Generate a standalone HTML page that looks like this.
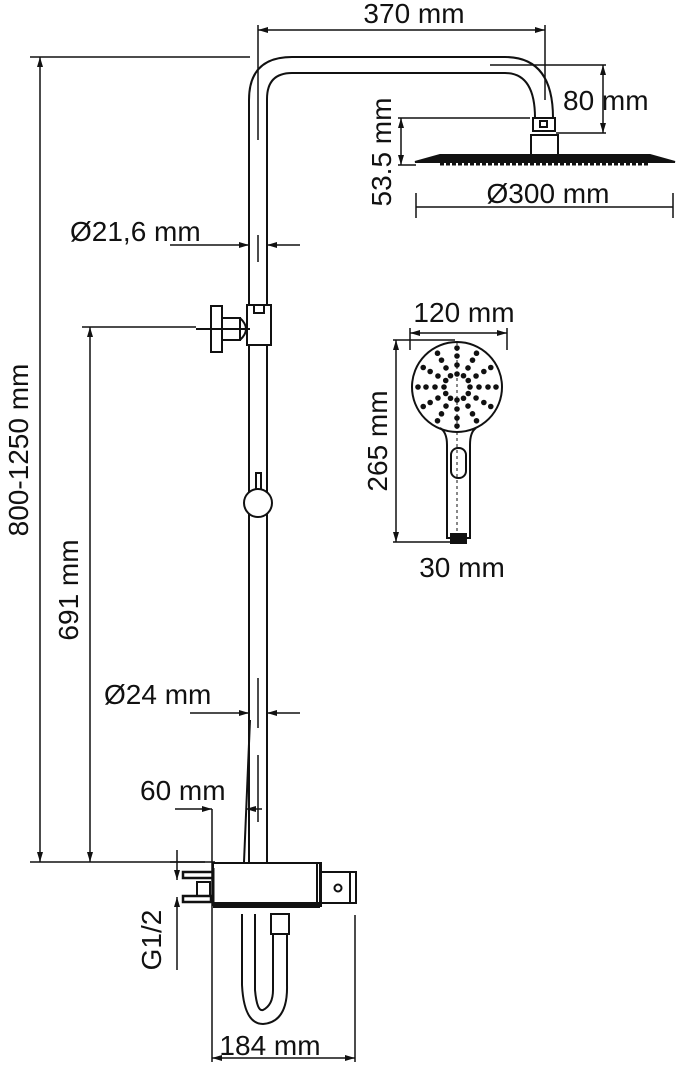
<!DOCTYPE html>
<html><head><meta charset="utf-8"><style>
html,body{margin:0;padding:0;background:#fff;}
svg{display:block;}
text{font-family:"Liberation Sans",sans-serif;font-size:28px;fill:#111;}
</style></head><body>
<svg id="s" width="679" height="1068" viewBox="0 0 679 1068" xmlns="http://www.w3.org/2000/svg">
<defs>
<marker id="a" viewBox="0 0 10 6" refX="10" refY="3" markerWidth="10" markerHeight="6" orient="auto-start-reverse" markerUnits="userSpaceOnUse"><path d="M0,0L10,3L0,6z" fill="#111"/></marker>
</defs>
<g fill="none" stroke="#111" stroke-width="2">
<path d="M249,862 V100 Q249,57 292,57 H505 Q553,57 553,118"/>
<path d="M267,862 V99 Q267,73 292,73 H505 Q535,73 535,118"/>
<rect x="533" y="118" width="22" height="13"/>
<rect x="540" y="121" width="7" height="6"/>
<rect x="531" y="135" width="27" height="20"/>
<path d="M415,162 L440,155 H650 L675,162 Z" fill="#111"/>
<line x1="440" y1="164" x2="650" y2="164" stroke-width="3" stroke-dasharray="4 2"/>
<rect x="247" y="305" width="24" height="40" fill="#fff"/>
<rect x="254" y="305" width="10" height="8"/>
<rect x="211" y="306" width="11" height="46"/>
<rect x="222" y="318" width="18" height="22"/>
<path d="M240,318 Q252,329 240,340"/>
<line x1="196" y1="329" x2="250" y2="329"/>
<rect x="256" y="473" width="5" height="17"/>
<circle cx="258" cy="503" r="14" fill="#fff"/>
<line x1="250" y1="720" x2="244" y2="862"/>
<rect x="213" y="863" width="107" height="40"/>
<line x1="213" y1="906" x2="320" y2="906" stroke-width="4"/>
<line x1="213" y1="868" x2="213" y2="906" stroke-width="3"/>
<rect x="317" y="863" width="4" height="43"/>
<rect x="320" y="872" width="36" height="31"/>
<line x1="350" y1="872" x2="350" y2="903"/>
<circle cx="338" cy="888" r="3.5"/>
<rect x="183" y="872" width="30" height="6" stroke-width="2.5"/>
<rect x="197" y="882" width="13" height="14"/>
<rect x="183" y="896" width="28" height="6" stroke-width="2.5"/>
<rect x="271" y="914" width="18" height="20"/>
<path d="M242,914 V985 Q244,1024 263,1024 Q288,1022 287,985 V934"/>
<path d="M255,914 V990 Q257,1012 263,1010 Q273,1005 273,990 V934"/>
<circle cx="457" cy="387" r="45"/>
<path d="M440,428 Q447,432 447,445 V538 H470 V445 Q470,432 476,428"/>
<rect x="451" y="448" width="15" height="30" rx="7"/>
<rect x="451" y="534" width="15" height="9" fill="#111"/>
<line x1="457" y1="342" x2="457" y2="538" stroke-width="1" stroke-dasharray="3 3"/>
</g>
<g id="dots" fill="#111"></g>
<g fill="none" stroke="#111" stroke-width="1.5">
<line x1="258" y1="25" x2="258" y2="140"/>
<line x1="545" y1="25" x2="545" y2="100"/>
<line x1="258" y1="30" x2="545" y2="30" marker-start="url(#a)" marker-end="url(#a)"/>
<line x1="490" y1="65" x2="606" y2="65"/>
<line x1="556" y1="133" x2="606" y2="133"/>
<line x1="603" y1="65" x2="603" y2="133" marker-start="url(#a)" marker-end="url(#a)"/>
<line x1="398" y1="118" x2="530" y2="118"/>
<line x1="398" y1="165" x2="416" y2="165"/>
<line x1="401" y1="118" x2="401" y2="165" marker-start="url(#a)" marker-end="url(#a)"/>
<line x1="416" y1="207" x2="673" y2="207"/>
<line x1="416" y1="193" x2="416" y2="218"/>
<line x1="673" y1="193" x2="673" y2="218"/>
<line x1="30" y1="57" x2="250" y2="57"/>
<line x1="30" y1="862" x2="215" y2="862"/>
<line x1="40" y1="57" x2="40" y2="862" marker-start="url(#a)" marker-end="url(#a)"/>
<line x1="82" y1="327" x2="196" y2="327"/>
<line x1="90" y1="327" x2="90" y2="862" marker-start="url(#a)" marker-end="url(#a)"/>
<line x1="258" y1="235" x2="258" y2="262"/>
<line x1="170" y1="245" x2="249" y2="245" marker-end="url(#a)"/>
<line x1="300" y1="245" x2="267" y2="245" marker-end="url(#a)"/>
<line x1="258" y1="678" x2="258" y2="728"/>
<line x1="190" y1="713" x2="249" y2="713" marker-end="url(#a)"/>
<line x1="300" y1="713" x2="267" y2="713" marker-end="url(#a)"/>
<line x1="258" y1="755" x2="258" y2="822"/>
<line x1="175" y1="809" x2="212" y2="809" marker-end="url(#a)"/>
<line x1="262" y1="809" x2="246" y2="809" marker-end="url(#a)"/>
<line x1="212" y1="809" x2="212" y2="1062"/>
<line x1="355" y1="915" x2="355" y2="1062"/>
<line x1="212" y1="1058" x2="355" y2="1058" marker-start="url(#a)" marker-end="url(#a)"/>
<line x1="170" y1="862" x2="205" y2="862"/>
<line x1="177" y1="850" x2="177" y2="880" marker-end="url(#a)"/>
<line x1="177" y1="970" x2="177" y2="897" marker-end="url(#a)"/>
<line x1="410" y1="333" x2="507" y2="333" marker-start="url(#a)" marker-end="url(#a)"/>
<line x1="410" y1="328" x2="410" y2="350"/>
<line x1="507" y1="328" x2="507" y2="350"/>
<line x1="393" y1="340" x2="455" y2="340"/>
<line x1="393" y1="542" x2="450" y2="542"/>
<line x1="396" y1="340" x2="396" y2="542" marker-start="url(#a)" marker-end="url(#a)"/>
</g>
<text x="414" y="23" text-anchor="middle">370 mm</text>
<text x="563" y="110">80 mm</text>
<text x="548" y="203" text-anchor="middle">Ø300 mm</text>
<text transform="translate(391,152) rotate(-90)" text-anchor="middle">53.5 mm</text>
<text x="70" y="241">Ø21,6 mm</text>
<text transform="translate(28,450) rotate(-90)" text-anchor="middle">800-1250 mm</text>
<text transform="translate(78,590) rotate(-90)" text-anchor="middle">691 mm</text>
<text x="104" y="704">Ø24 mm</text>
<text x="140" y="800">60 mm</text>
<text transform="translate(161,940) rotate(-90)" text-anchor="middle">G1/2</text>
<text x="270" y="1055" text-anchor="middle">184 mm</text>
<text x="464" y="322" text-anchor="middle">120 mm</text>
<text transform="translate(387,441) rotate(-90)" text-anchor="middle">265 mm</text>
<text x="462" y="577" text-anchor="middle">30 mm</text>
</svg>
<script>
var g=document.getElementById('dots'),ns='http://www.w3.org/2000/svg';
function d(x,y){var c=document.createElementNS(ns,'circle');c.setAttribute('cx',x);c.setAttribute('cy',y);c.setAttribute('r',2.8);g.appendChild(c);}
for(var k=0;k<12;k++){var t=k*Math.PI/6;[13,22,31,39].forEach(function(r){d(457+r*Math.cos(t),387+r*Math.sin(t));});}
</script>
</body></html>
